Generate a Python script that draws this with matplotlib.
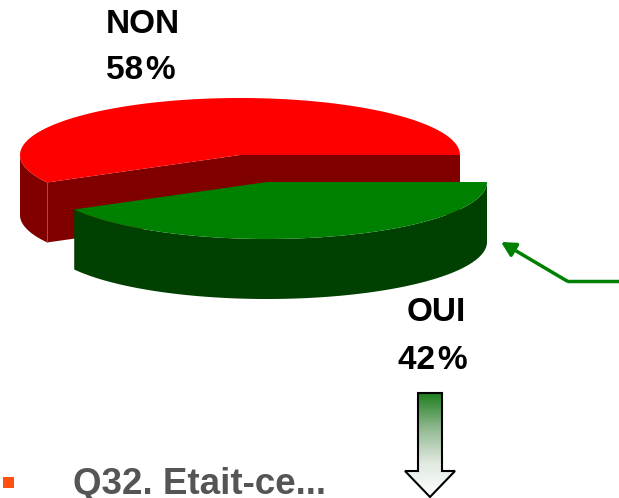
import numpy as np
import matplotlib
matplotlib.use("Agg")
import matplotlib.pyplot as plt
from matplotlib.patches import Polygon
from matplotlib.colors import LinearSegmentedColormap

labels = ["NON", "OUI"]
values = [58, 42]
top_colors = ["#ff0000", "#008000"]
side_colors = ["#800000", "#004000"]
title = "Q32. Etait-ce..."

plt.rcParams["font.family"] = ["Liberation Sans", "DejaVu Sans"]

# pie geometry in pixels
rx, ry = 220, 57
depth = 60
centers = [(240, 155), (267, 182)]


def rim(cx, cy, t):
    # angle counted counter-clockwise on screen, y axis points down
    return cx + rx * np.cos(t), cy - ry * np.sin(t)


fig = plt.figure(figsize=(6.19, 4.98), dpi=100)
ax = fig.add_axes([0, 0, 1, 1])
ax.set_xlim(0, 619)
ax.set_ylim(498, 0)
ax.axis("off")

cut = 2 * np.pi * values[0] / sum(values)

# red slice, from 3 o'clock over the top
cx, cy = centers[0]
cut_x, cut_y = rim(cx, cy, cut)
face = [(cut_x, cut_y), (cx, cy), (cx + rx, cy), (cx + rx, cy + depth), (cx, cy + depth),
        (cut_x, cut_y + depth)]
ax.add_patch(Polygon(face, fc=side_colors[0], ec="none", zorder=1))
wx, wy = rim(cx, cy, np.linspace(np.pi, cut, 40))
ax.add_patch(Polygon(np.column_stack([np.r_[wx, wx[::-1]], np.r_[wy, wy[::-1] + depth]]),
                     fc=side_colors[0], ec="none", zorder=1))
ax.plot([cut_x, cut_x], [cut_y, cut_y + depth], color="#b05050", lw=0.6, zorder=1.5)
tx, ty = rim(cx, cy, np.linspace(0, cut, 200))
ax.add_patch(Polygon(np.column_stack([np.r_[cx, tx], np.r_[cy, ty]]), fc=top_colors[0], ec="none", zorder=2))

# green slice, pulled out towards the viewer
cx, cy = centers[1]
tx, ty = rim(cx, cy, np.linspace(cut, 2 * np.pi, 200))
ax.add_patch(Polygon(np.column_stack([np.r_[tx, tx[::-1]], np.r_[ty, ty[::-1] + depth]]),
                     fc=side_colors[1], ec="none", zorder=3))
ax.add_patch(Polygon(np.column_stack([np.r_[cx, tx], np.r_[cy, ty]]), fc=top_colors[1], ec="none", zorder=4))

# slice labels
ax.text(143, 24, labels[0], fontsize=24, fontweight="bold", ha="center", va="center", color="black")
ax.text(141, 70, f"{values[0]}\u200a%", fontsize=24, fontweight="bold", ha="center", va="center", color="black")
ax.text(436, 312, labels[1], fontsize=24, fontweight="bold", ha="center", va="center", color="black")
ax.text(433, 360, f"{values[1]}\u200a%", fontsize=24, fontweight="bold", ha="center", va="center", color="black")

# green callout
ax.annotate("", xy=(501, 242), xytext=(567, 281),
            arrowprops=dict(arrowstyle="-|>,head_length=0.85,head_width=0.45", color="#008000", lw=2.5,
                            shrinkA=0, shrinkB=0), zorder=5)
ax.plot([567, 619], [281, 281], color="#008000", lw=2.5, solid_capstyle="butt", zorder=5)

# gradient down arrow
arrow = Polygon([(418, 393), (442, 393), (442, 471), (455, 471), (430, 497), (405, 471), (418, 471)],
                fc="none", ec="black", lw=1.5, zorder=7, joinstyle="miter")
cmap = LinearSegmentedColormap.from_list("fade", ["#1f7f1f", "#8fb88f", "#dfe8df", "#ffffff"])
grad = ax.imshow(np.linspace(0, 1, 100).reshape(-1, 1), cmap=cmap, extent=(405, 455, 497, 393),
                 aspect="auto", zorder=6)
ax.add_patch(arrow)
grad.set_clip_path(arrow)
ax.set_xlim(0, 619)
ax.set_ylim(498, 0)

# bullet and question
ax.add_patch(Polygon([(3, 477), (14, 477), (14, 488), (3, 488)], fc="#ff5010", ec="none"))
ax.text(73, 484, title, fontsize=26.5, fontweight="bold", ha="left", va="center", color="#555555")

fig.savefig("out.png", dpi=100)
